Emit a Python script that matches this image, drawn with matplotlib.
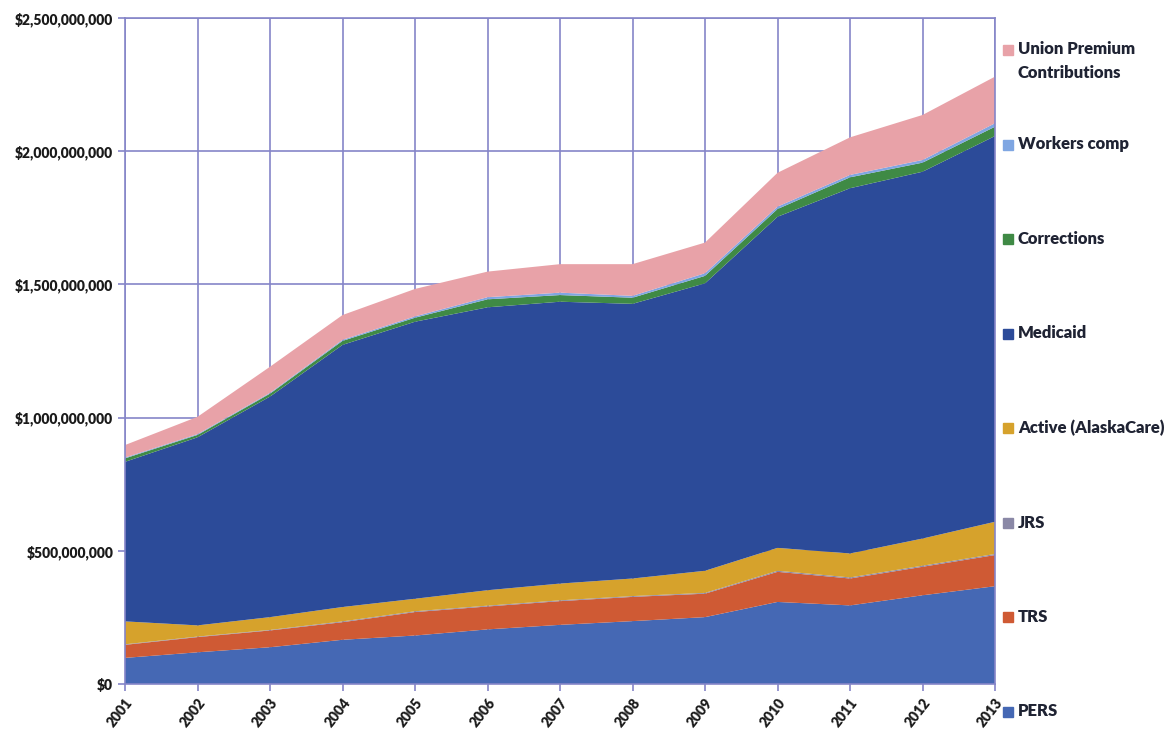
import numpy as np
import matplotlib
matplotlib.use("Agg")
import matplotlib.pyplot as plt
from matplotlib.patches import Rectangle
from matplotlib.ticker import FuncFormatter

# ---- DATA (millions of dollars) ---- #
years = np.arange(2001, 2014)
series_names = ["PERS", "TRS", "JRS", "Active (AlaskaCare)", "Medicaid",
                "Corrections", "Workers comp", "Union Premium\nContributions"]
pers = [98, 119, 138, 166, 182, 205, 222, 236, 251, 308, 295, 333, 367]
trs = [49, 57, 63, 66, 88, 86, 89, 91, 88, 113, 101, 107, 117]
jrs = [2, 2, 2, 3, 3, 3, 3, 3, 3, 4, 4, 4, 4]
active = [86, 42, 48, 54, 47, 58, 63, 66, 83, 86, 90, 102, 121]
medicaid = [599, 706, 828, 984, 1040, 1062, 1058, 1031, 1079, 1243, 1371, 1377, 1448]
corrections = [13, 9, 11, 15, 15, 30, 25, 23, 28, 29, 41, 34, 35]
workers = [3, 3, 3, 4, 5, 8, 9, 7, 10, 9, 9, 10, 13]
union = [47, 65, 98, 93, 103, 96, 107, 119, 115, 127, 141, 169, 175]

colors = ["#4568b4", "#cf5a34", "#8a88a6", "#d6a22c", "#2c4b99",
          "#3f8a45", "#7fa6e2", "#e8a2a8"]
grid_col = "#8585c8"

plt.rcParams["font.family"] = ["Lato", "DejaVu Sans"]
plt.rcParams["font.weight"] = "bold"

W, H = 1172, 735
fig = plt.figure(figsize=(W / 100, H / 100), dpi=100)
ax = fig.add_axes([0.1067, 0.0694, 0.7423, 0.9061])

data = np.array([pers, trs, jrs, active, medicaid, corrections, workers, union]) * 1e6
ax.stackplot(years, data, colors=colors, labels=series_names, linewidth=0, zorder=2)

# ---- AXES ---- #
ax.set_xlim(2001, 2013)
ax.set_ylim(0, 2.5e9)
ax.set_xticks(years)
ax.set_yticks(np.arange(0, 2.51e9, 5e8))
ax.yaxis.set_major_formatter(FuncFormatter(lambda v, p: f"${v:,.0f}"))
ax.grid(True, color=grid_col, linewidth=1.2, zorder=0)
ax.set_axisbelow(True)
for s in ax.spines.values():
    s.set_color(grid_col)
    s.set_linewidth(1.2)
ax.tick_params(axis="both", color=grid_col, length=5, width=1.2,
               labelsize=10, labelcolor="#1a1a1a")
for lab in ax.get_xticklabels():
    lab.set_rotation(52)
    lab.set_ha("right")
    lab.set_va("top")
    lab.set_rotation_mode("anchor")
    lab.set_fontweight("heavy")
for lab in ax.get_yticklabels():
    lab.set_fontweight("heavy")

# ---- LEGEND (evenly spaced down the right side, top entry first) ---- #
leg_top, leg_step = 50, 94.5
for i, (name, col) in enumerate(zip(series_names[::-1], colors[::-1])):
    yc = leg_top + i * leg_step
    fig.patches.append(Rectangle((1003 / W, 1 - (yc + 5) / H), 10 / W, 10 / H,
                                 transform=fig.transFigure, color=col))
    if "\n" in name:
        # marker lines up with the first line of a two-line label
        fig.text(1018 / W, 1 - (yc - 9) / H, name, ha="left", va="top",
                 fontsize=12, fontweight="heavy", color="#1f2333", linespacing=1.6)
    else:
        fig.text(1018 / W, 1 - yc / H, name, ha="left", va="center",
                 fontsize=12, fontweight="heavy", color="#1f2333")

fig.savefig("out.png", dpi=100)
